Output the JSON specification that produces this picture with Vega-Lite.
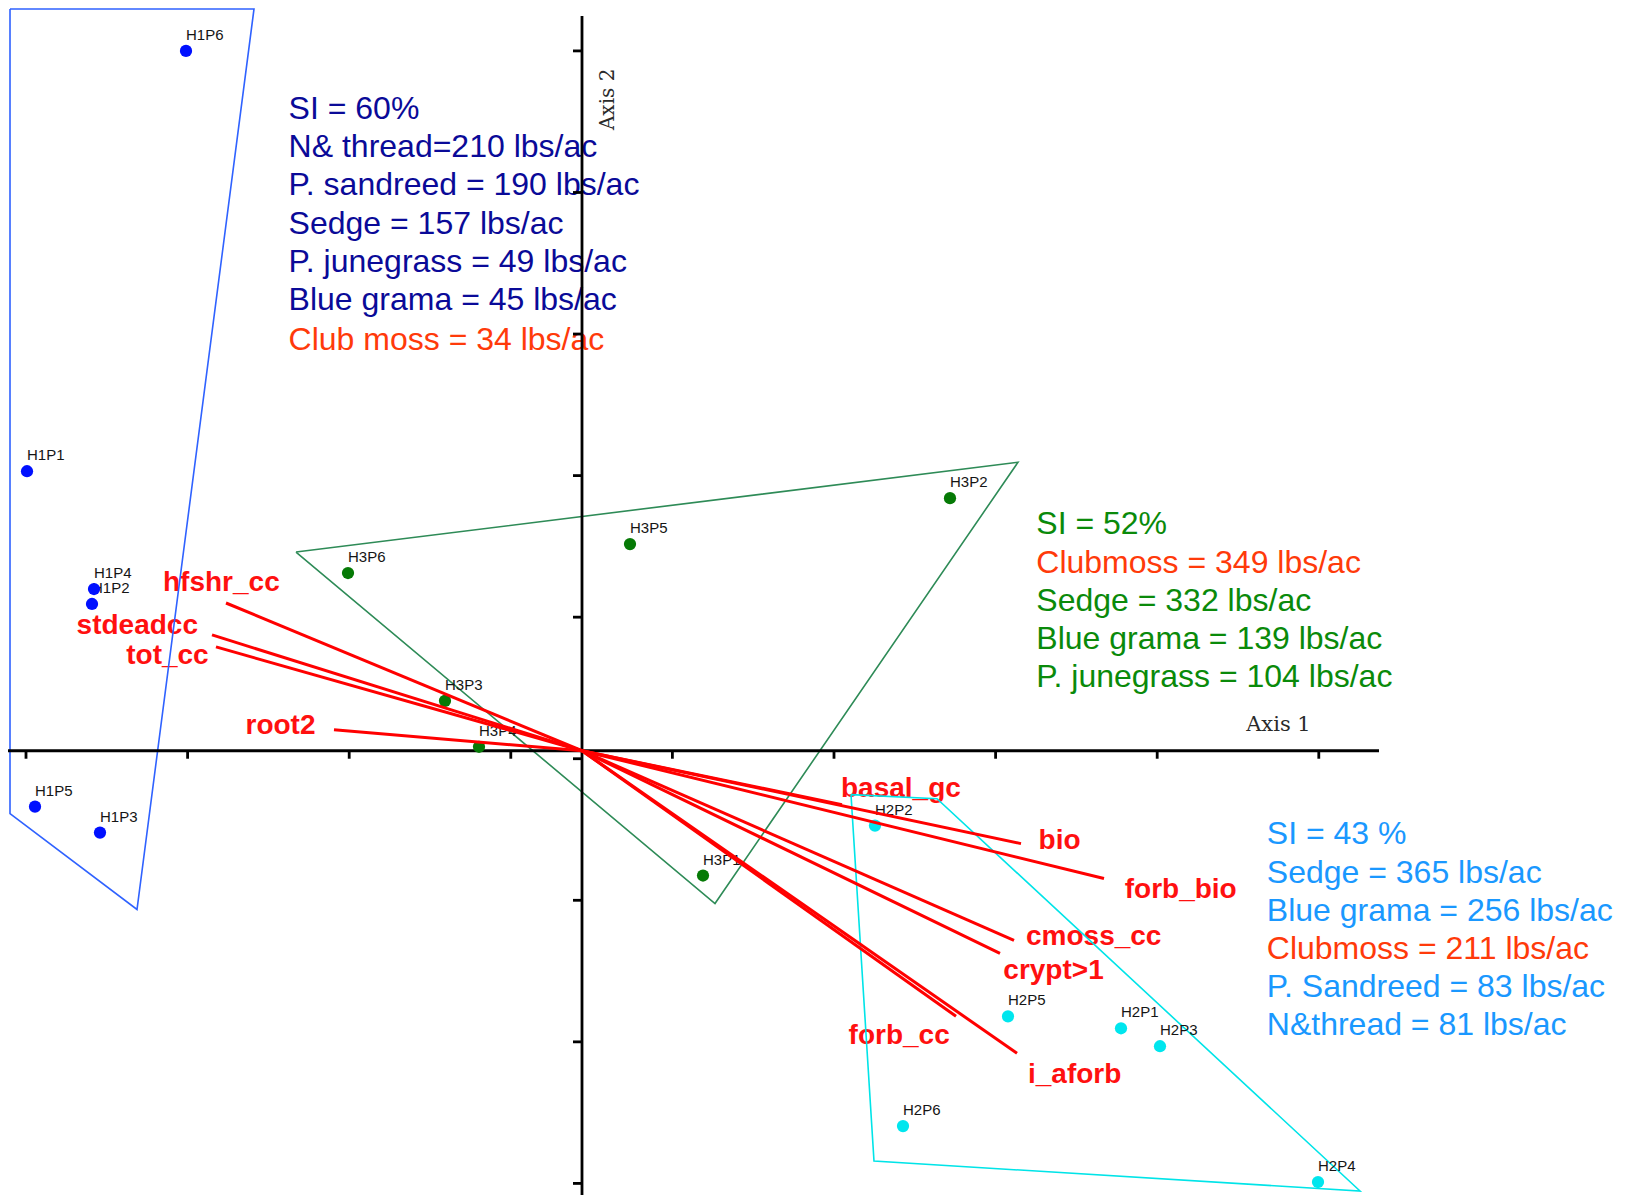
{
  "$schema": "https://vega.github.io/schema/vega-lite/v6.json",
  "width": 1628,
  "height": 1197,
  "autosize": {"type": "fit", "contains": "padding"},
  "padding": 0,
  "background": "white",
  "config": {"view": {"stroke": null}},
  "datasets": {
    "blocks": [
      {"grp": "H1", "t": "SI = 60%", "x": -1.8156, "y": 4.5357},
      {"grp": "H1", "t": "N& thread=210 lbs/ac", "x": -1.8156, "y": 4.2648},
      {"grp": "H1", "t": "P. sandreed = 190 lbs/ac", "x": -1.8156, "y": 3.9941},
      {"grp": "H1", "t": "Sedge = 157 lbs/ac", "x": -1.8156, "y": 3.7232},
      {"grp": "H1", "t": "P. junegrass = 49 lbs/ac", "x": -1.8156, "y": 3.4524},
      {"grp": "H1", "t": "Blue grama = 45 lbs/ac", "x": -1.8156, "y": 3.1816},
      {"grp": "club", "t": "Club moss = 34 lbs/ac", "x": -1.8156, "y": 2.9031},
      {"grp": "H3", "t": "SI = 52%", "x": 2.8113, "y": 1.5998},
      {"grp": "club", "t": "Clubmoss = 349 lbs/ac", "x": 2.8113, "y": 1.3290},
      {"grp": "H3", "t": "Sedge = 332 lbs/ac", "x": 2.8113, "y": 1.0589},
      {"grp": "H3", "t": "Blue grama = 139 lbs/ac", "x": 2.8113, "y": 0.7888},
      {"grp": "H3", "t": "P. junegrass = 104 lbs/ac", "x": 2.8113, "y": 0.5180},
      {"grp": "H2", "t": "SI = 43 %", "x": 4.2376, "y": -0.5913},
      {"grp": "H2", "t": "Sedge = 365 lbs/ac", "x": 4.2376, "y": -0.8642},
      {"grp": "H2", "t": "Blue grama = 256 lbs/ac", "x": 4.2376, "y": -1.1322},
      {"grp": "club", "t": "Clubmoss = 211 lbs/ac", "x": 4.2376, "y": -1.3973},
      {"grp": "H2", "t": "P. Sandreed = 83 lbs/ac", "x": 4.2376, "y": -1.6681},
      {"grp": "H2", "t": "N&thread = 81 lbs/ac", "x": 4.2376, "y": -1.9382}
    ],
    "vectors": [
      {"name": "hfshr_cc", "x": -2.2030, "y": 1.0437, "lx": -2.5928, "ly": 1.1855},
      {"name": "stdeadcc", "x": -2.2896, "y": 0.8181, "lx": -3.1275, "ly": 0.8801},
      {"name": "tot_cc", "x": -2.2649, "y": 0.7334, "lx": -2.8205, "ly": 0.6686},
      {"name": "root2", "x": -1.5347, "y": 0.1481, "lx": -2.0823, "ly": 0.1749},
      {"name": "basal_gc", "x": 1.6089, "y": -0.3808, "lx": 1.6027, "ly": -0.2715},
      {"name": "bio", "x": 2.7166, "y": -0.6559, "lx": 2.8255, "ly": -0.6361},
      {"name": "forb_bio", "x": 3.2302, "y": -0.9027, "lx": 3.3583, "ly": -0.9838},
      {"name": "cmoss_cc", "x": 2.6733, "y": -1.3399, "lx": 2.7475, "ly": -1.3180},
      {"name": "crypt>1", "x": 2.5866, "y": -1.4316, "lx": 2.6071, "ly": -1.5578},
      {"name": "forb_cc", "x": 2.3144, "y": -1.8759, "lx": 1.6498, "ly": -2.0183},
      {"name": "i_aforb", "x": 2.6918, "y": -2.1368, "lx": 2.7599, "ly": -2.2934}
    ],
    "hulls": [
      {"grp": "H1", "ord": 1, "x": -3.5396, "y": 5.2398},
      {"grp": "H1", "ord": 2, "x": -2.0297, "y": 5.2398},
      {"grp": "H1", "ord": 3, "x": -2.7537, "y": -1.1213},
      {"grp": "H1", "ord": 4, "x": -3.5396, "y": -0.4443},
      {"grp": "H1", "ord": 5, "x": -3.5396, "y": 5.2398},
      {"grp": "H3", "ord": 1, "x": -1.7698, "y": 1.4034},
      {"grp": "H3", "ord": 2, "x": 2.6980, "y": 2.0381},
      {"grp": "H3", "ord": 3, "x": 0.8230, "y": -1.0790},
      {"grp": "H3", "ord": 4, "x": -1.7698, "y": 1.4034},
      {"grp": "H2", "ord": 1, "x": 1.6646, "y": -0.3103},
      {"grp": "H2", "ord": 2, "x": 2.1968, "y": -0.3385},
      {"grp": "H2", "ord": 3, "x": 4.8144, "y": -3.1100},
      {"grp": "H2", "ord": 4, "x": 1.8069, "y": -2.8985},
      {"grp": "H2", "ord": 5, "x": 1.6646, "y": -0.3103}
    ],
    "axes": [
      {"x": -3.5520, "y": 0, "x2": 4.9319, "y2": 0},
      {"x": 0, "y": 5.1904, "x2": 0, "y2": -3.1382},
      {"x": -3.4406, "y": 0, "x2": -3.4406, "y2": -0.0564},
      {"x": -2.4406, "y": 0, "x2": -2.4406, "y2": -0.0564},
      {"x": -1.4406, "y": 0, "x2": -1.4406, "y2": -0.0564},
      {"x": -0.4406, "y": 0, "x2": -0.4406, "y2": -0.0564},
      {"x": 0.5594, "y": 0, "x2": 0.5594, "y2": -0.0564},
      {"x": 1.5594, "y": 0, "x2": 1.5594, "y2": -0.0564},
      {"x": 2.5594, "y": 0, "x2": 2.5594, "y2": -0.0564},
      {"x": 3.5594, "y": 0, "x2": 3.5594, "y2": -0.0564},
      {"x": 4.5594, "y": 0, "x2": 4.5594, "y2": -0.0564},
      {"x": -0.0557, "y": 4.9436, "x2": 0, "y2": 4.9436},
      {"x": -0.0557, "y": 3.9436, "x2": 0, "y2": 3.9436},
      {"x": -0.0557, "y": 2.9436, "x2": 0, "y2": 2.9436},
      {"x": -0.0557, "y": 1.9436, "x2": 0, "y2": 1.9436},
      {"x": -0.0557, "y": 0.9436, "x2": 0, "y2": 0.9436},
      {"x": -0.0557, "y": -0.0564, "x2": 0, "y2": -0.0564},
      {"x": -0.0557, "y": -1.0564, "x2": 0, "y2": -1.0564},
      {"x": -0.0557, "y": -2.0564, "x2": 0, "y2": -2.0564},
      {"x": -0.0557, "y": -3.0564, "x2": 0, "y2": -3.0564}
    ],
    "points": [
      {"grp": "H1", "name": "H1P1", "x": -3.4344, "y": 1.9746},
      {"grp": "H1", "name": "H1P2", "x": -3.0322, "y": 1.0367},
      {"grp": "H1", "name": "H1P3", "x": -2.9827, "y": -0.5783},
      {"grp": "H1", "name": "H1P4", "x": -3.0198, "y": 1.1425},
      {"grp": "H1", "name": "H1P5", "x": -3.3849, "y": -0.3949},
      {"grp": "H1", "name": "H1P6", "x": -2.4505, "y": 4.9436},
      {"grp": "H2", "name": "H2P1", "x": 3.3354, "y": -1.9605},
      {"grp": "H2", "name": "H2P2", "x": 1.8131, "y": -0.5289},
      {"grp": "H2", "name": "H2P3", "x": 3.5767, "y": -2.0874},
      {"grp": "H2", "name": "H2P4", "x": 4.5545, "y": -3.0465},
      {"grp": "H2", "name": "H2P5", "x": 2.6361, "y": -1.8759},
      {"grp": "H2", "name": "H2P6", "x": 1.9864, "y": -2.6516},
      {"grp": "H3", "name": "H3P1", "x": 0.7488, "y": -0.8815},
      {"grp": "H3", "name": "H3P2", "x": 2.2772, "y": 1.7842},
      {"grp": "H3", "name": "H3P3", "x": -0.8478, "y": 0.3526},
      {"grp": "H3", "name": "H3P4", "x": -0.6374, "y": 0.0282},
      {"grp": "H3", "name": "H3P5", "x": 0.2970, "y": 1.4598},
      {"grp": "H3", "name": "H3P6", "x": -1.4480, "y": 1.2553}
    ]
  },
  "encoding": {
    "x": {"field": "x", "type": "quantitative", "scale": {"domain": [-3.6015, 6.4728], "nice": false, "zero": false}, "axis": null},
    "y": {"field": "y", "type": "quantitative", "scale": {"domain": [-3.1382, 5.3032], "nice": false, "zero": false}, "axis": null}
  },
  "layer": [
    {
      "data": {"name": "blocks"},
      "mark": {"type": "text", "align": "left", "baseline": "middle", "font": "Liberation Sans", "fontSize": 32},
      "encoding": {
        "text": {"field": "t"},
        "color": {"field": "grp", "type": "nominal", "scale": {"domain": ["H1", "H3", "H2", "club"], "range": ["#0a0a98", "#0a8a0a", "#1a98ff", "#ff3a0a"]}, "legend": null}
      }
    },
    {
      "data": {"name": "vectors"},
      "mark": {"type": "text", "align": "left", "baseline": "middle", "font": "Liberation Sans", "fontSize": 28, "fontWeight": "bold", "color": "#ff1010"},
      "encoding": {
        "x": {"field": "lx", "type": "quantitative"},
        "y": {"field": "ly", "type": "quantitative"},
        "text": {"field": "name"}
      }
    },
    {
      "data": {"name": "hulls"},
      "mark": {"type": "line", "strokeWidth": 1.6, "interpolate": "linear"},
      "encoding": {
        "order": {"field": "ord", "type": "quantitative"},
        "detail": {"field": "grp"},
        "color": {"field": "grp", "type": "nominal", "scale": {"domain": ["H1", "H2", "H3"], "range": ["#2f62ff", "#00e4e8", "#2e8b57"]}, "legend": null}
      }
    },
    {
      "data": {"name": "axes"},
      "mark": {"type": "rule", "strokeWidth": 2.8, "color": "#000000"},
      "encoding": {
        "x2": {"field": "x2"},
        "y2": {"field": "y2"}
      }
    },
    {
      "data": {"values": [{"t": "Axis 1", "x": 4.11, "y": 0.181}]},
      "mark": {"type": "text", "align": "left", "baseline": "middle", "font": "DejaVu Serif", "fontSize": 21, "color": "#2a2a2a"},
      "encoding": {"text": {"field": "t"}}
    },
    {
      "data": {"values": [{"t": "Axis 2", "x": 0.1578, "y": 4.6015}]},
      "mark": {"type": "text", "align": "center", "baseline": "middle", "angle": 270, "font": "DejaVu Serif", "fontSize": 20, "color": "#2a2a2a"},
      "encoding": {"text": {"field": "t"}}
    },
    {
      "data": {"name": "points"},
      "mark": {"type": "text", "align": "left", "baseline": "middle", "dy": -16, "font": "Liberation Sans", "fontSize": 15, "color": "#151515"},
      "encoding": {"text": {"field": "name"}}
    },
    {
      "data": {"name": "points"},
      "mark": {"type": "point", "filled": true, "shape": "circle", "size": 150, "opacity": 1},
      "encoding": {
        "color": {"field": "grp", "type": "nominal", "scale": {"domain": ["H1", "H2", "H3"], "range": ["#0010ff", "#00e6ee", "#067a06"]}, "legend": null}
      }
    },
    {
      "data": {"name": "vectors"},
      "mark": {"type": "rule", "strokeWidth": 3, "color": "#ff0000"},
      "encoding": {
        "x2": {"datum": 0},
        "y2": {"datum": 0}
      }
    }
  ],
  "resolve": {"scale": {"color": "independent"}}
}
